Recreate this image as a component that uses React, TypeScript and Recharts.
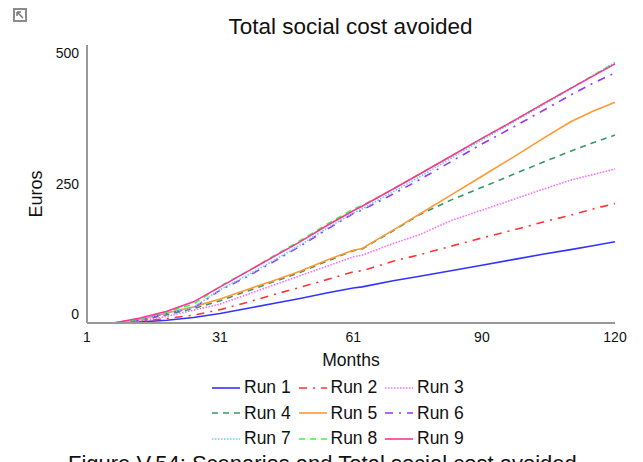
import React from "react";
import { LineChart, Line, XAxis, YAxis } from "recharts";

const months = [1, 7, 13, 19, 25, 31, 37, 43, 49, 55, 61, 63, 70, 76, 83, 90, 97, 104, 110, 115, 120];

const run1 = [0, 0, 2, 5, 10, 17, 26, 35, 44, 54, 63, 65, 76, 84, 94, 104, 114, 124, 132, 139, 146];
const run2 = [0, 0, 3, 8, 14, 24, 37, 51, 64, 78, 92, 94, 111, 123, 138, 153, 167, 182, 194, 205, 215];
const run3 = [0, 0, 4, 12, 23, 34, 51, 68, 85, 102, 119, 122, 143, 159, 184, 203, 222, 241, 257, 267, 277];
const run4 = [0, 0, 5, 15, 26, 40, 57, 74, 91, 111, 130, 133, 166, 195, 221, 244, 267, 290, 309, 324, 338];
const run5 = [0, 0, 6, 18, 29, 43, 60, 76, 93, 113, 131, 134, 167, 196, 230, 264, 298, 333, 362, 381, 397];
const run6 = [0, 0, 6, 17, 27, 59, 83, 110, 138, 168, 197, 203, 232, 258, 290, 322, 352, 383, 410, 431, 450];
const run7 = [0, 0, 7, 18, 28, 60, 85, 112, 140, 170, 198, 205, 236, 263, 296, 329, 361, 393, 421, 445, 469];
const run8 = [0, 0, 8, 20, 34, 66, 92, 120, 148, 177, 205, 211, 241, 268, 300, 332, 363, 395, 422, 445, 468];
const run9 = [0, 0, 9, 21, 38, 65, 92, 119, 146, 175, 202, 210, 241, 268, 300, 332, 363, 395, 422, 444, 466];

const xTicks = [1, 31, 61, 90, 120];
const yTicks = [0, 250, 500];

const series = [
  { name: "Run 1", values: run1, color: "#3333ff", dash: undefined },
  { name: "Run 2", values: run2, color: "#ff3333", dash: "8 6 2 6" },
  { name: "Run 3", values: run3, color: "#ff66ff", dash: "1.5 1.5" },
  { name: "Run 4", values: run4, color: "#339966", dash: "6 5" },
  { name: "Run 5", values: run5, color: "#ff9933", dash: undefined },
  { name: "Run 6", values: run6, color: "#9933ff", dash: "8 6 2 6" },
  { name: "Run 7", values: run7, color: "#66ccff", dash: "1.5 1.5" },
  { name: "Run 8", values: run8, color: "#33ff33", dash: "6 5" },
  { name: "Run 9", values: run9, color: "#ff3399", dash: undefined },
];

const chartData = months.map((month, i) => {
  const row: Record<string, number> = { month };
  series.forEach((s) => {
    row[s.name] = s.values[i];
  });
  return row;
});

const FONT = '"Liberation Sans", Arial, sans-serif';

// labels on the value axis sit inside the axis ends, not on the tick itself
function YTick({ x, y, payload }: any) {
  const shift = payload.value === 500 ? 8 : payload.value === 0 ? -9 : 0;
  return (
    <text x={x} y={y + shift} dy={5} textAnchor="end" fontSize={14} fill="#111" fontFamily={FONT}>
      {payload.value}
    </text>
  );
}

function RunLegend() {
  return (
    <div
      style={{
        position: "absolute",
        left: 212,
        top: 375,
        display: "grid",
        gridTemplateColumns: "86.5px 86.5px 86.5px",
        gridAutoRows: "25.5px",
        fontFamily: FONT,
        fontSize: 17.5,
        color: "#111",
      }}
    >
      {series.map((s) => (
        <div key={s.name} style={{ display: "flex", alignItems: "center" }}>
          <svg width={28} height={6} style={{ marginRight: 4 }}>
            <line x1={0} y1={3} x2={28} y2={3} stroke={s.color} strokeWidth={1.6} strokeDasharray={s.dash} />
          </svg>
          <span>{s.name}</span>
        </div>
      ))}
    </div>
  );
}

export default function App() {
  return (
    <div
      style={{
        position: "fixed",
        left: 0,
        top: 0,
        width: 643,
        height: 462,
        overflow: "hidden",
        background: "#fff",
        fontFamily: FONT,
      }}
    >
      <svg width={14} height={14} style={{ position: "absolute", left: 13, top: 8 }}>
        <rect x={1} y={1} width={12} height={12} fill="#fff" stroke="#8c8c8c" strokeWidth={2} />
        <path d="M4 4 L10 10 M4 4 H8 M4 4 V8" stroke="#777" strokeWidth={1.5} fill="none" />
      </svg>
      <div style={{ position: "absolute", left: 0, width: 701, top: 14, textAlign: "center", fontSize: 22.5, color: "#111" }}>
        Total social cost avoided
      </div>
      <LineChart
        width={643}
        height={462}
        data={chartData}
        margin={{ top: 45, right: 28, bottom: 0, left: 0 }}
      >
        <XAxis
          dataKey="month"
          type="number"
          domain={[1, 120]}
          ticks={xTicks}
          tickLine={false}
          axisLine={{ stroke: "#999", strokeWidth: 2 }}
          tick={{ fontSize: 14, fill: "#111", fontFamily: FONT }}
          tickMargin={3}
          height={139}
          interval={0}
        />
        <YAxis
          type="number"
          domain={[0, 500]}
          ticks={yTicks}
          tickLine={false}
          axisLine={{ stroke: "#999", strokeWidth: 2 }}
          tick={<YTick />}
          width={87}
          interval={0}
        />
        {series.map((s) => (
          <Line
            key={s.name}
            dataKey={s.name}
            stroke={s.color}
            strokeWidth={1.6}
            strokeDasharray={s.dash}
            dot={false}
            type="linear"
            isAnimationActive={false}
          />
        ))}
      </LineChart>
      <div
        style={{
          position: "absolute",
          left: 26,
          top: 184,
          width: 20,
          height: 20,
          transform: "rotate(-90deg)",
          display: "flex",
          alignItems: "center",
          justifyContent: "center",
          fontSize: 18,
          color: "#111",
        }}
      >
        Euros
      </div>
      <div style={{ position: "absolute", left: 0, width: 702, top: 350, textAlign: "center", fontSize: 17.5, color: "#111" }}>
        Months
      </div>
      <RunLegend />
      <div style={{ position: "absolute", left: 68, top: 451, fontSize: 22, color: "#111", whiteSpace: "nowrap" }}>
        Figure V.54: Scenarios and Total social cost avoided
      </div>
    </div>
  );
}
